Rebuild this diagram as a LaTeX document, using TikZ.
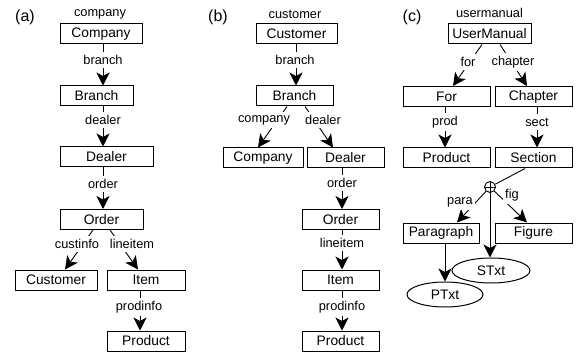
\documentclass[tikz,border=0pt]{standalone}
\usepackage{fontspec}
\setmainfont{Liberation Sans}
\usetikzlibrary{arrows.meta,shapes.geometric}

\tikzset{
  box/.style={draw, line width=1pt, minimum height=20pt, inner sep=0pt,
    font=\fontsize{13.8}{16}\selectfont},
  oval/.style={draw, ellipse, line width=1pt, minimum height=25pt, inner sep=0pt,
    font=\fontsize{13.8}{16}\selectfont},
  lbl/.style={fill=white, inner xsep=2pt, inner ysep=3.5pt, font=\fontsize{12.8}{15}\selectfont},
  tag/.style={font=\fontsize{16}{18}\selectfont},
  arr/.style={line width=0.9pt, -{Stealth[length=13pt,width=13pt,inset=3.5pt]}},
}

\begin{document}
\begin{tikzpicture}[x=1pt,y=-1pt]
\useasboundingbox (0,0) rectangle (582,353);

% (a)
\node[tag] (tagA) at (25,17) {(a)};
\node[box, minimum width=82pt] (aCompany) at (101,34) {Company};
\node[box, minimum width=73pt] (aBranch) at (96.5,96) {Branch};
\node[box, minimum width=93pt] (aDealer) at (106.5,157) {Dealer};
\node[box, minimum width=83pt] (aOrder) at (101.5,219.5) {Order};
\node[box, minimum width=82pt] (aCustomer) at (56,280) {Customer};
\node[box, minimum width=78pt] (aItem) at (146,280) {Item};
\node[box, minimum width=78pt] (aProduct) at (146,341) {Product};

\draw[arr] ([xshift=2pt]aCompany.south) -- ([xshift=6.5pt]aBranch.north);
\draw[arr] ([xshift=6.5pt]aBranch.south) -- ([xshift=-3.5pt]aDealer.north);
\draw[arr] ([xshift=-3.5pt]aDealer.south) -- ([xshift=1.5pt]aOrder.north);
\draw[arr] ([xshift=-8.5pt]aOrder.south) -- ([xshift=9pt]aCustomer.north);
\draw[arr] ([xshift=8.5pt]aOrder.south) -- ([xshift=-8pt]aItem.north);
\draw[arr] ([xshift=-6pt]aItem.south) -- ([xshift=-6pt]aProduct.north);

\node[lbl] (aL0) at (100,14) {company};
\node[lbl] (aL1) at (103,60) {branch};
\node[lbl] (aL2) at (103,120) {dealer};
\node[lbl] (aL3) at (103,184) {order};
\node[lbl] (aL4) at (77,244) {custinfo};
\node[lbl] (aL5) at (132,244) {lineitem};
\node[lbl] (aL6) at (139,307) {prodinfo};

% (b)
\node[tag] (tagB) at (218,17) {(b)};
\node[box, minimum width=81pt] (bCustomer) at (296.5,34) {Customer};
\node[box, minimum width=77pt] (bBranch) at (294.5,96) {Branch};
\node[box, minimum width=80pt] (bCompany) at (263,158) {Company};
\node[box, minimum width=77pt] (bDealer) at (345.5,158) {Dealer};
\node[box, minimum width=77pt] (bOrder) at (340.5,219.5) {Order};
\node[box, minimum width=77pt] (bItem) at (340.5,280) {Item};
\node[box, minimum width=77pt] (bProduct) at (340.5,341) {Product};

\draw[arr] ([xshift=-0.5pt]bCustomer.south) -- ([xshift=1.5pt]bBranch.north);
\draw[arr] ([xshift=-7.5pt]bBranch.south) -- ([xshift=-5pt]bCompany.north);
\draw[arr] ([xshift=10.5pt]bBranch.south) -- ([xshift=-12.5pt]bDealer.north);
\draw[arr] ([xshift=-3.5pt]bDealer.south) -- ([xshift=1.5pt]bOrder.north);
\draw[arr] ([xshift=1.5pt]bOrder.south) -- ([xshift=1.5pt]bItem.north);
\draw[arr] ([xshift=1.5pt]bItem.south) -- ([xshift=1.5pt]bProduct.north);

\node[lbl] (bL0) at (295,14) {customer};
\node[lbl] (bL1) at (295,60) {branch};
\node[lbl] (bL2) at (264,120) {company};
\node[lbl] (bL3) at (323,120) {dealer};
\node[lbl] (bL4) at (342,183) {order};
\node[lbl] (bL5) at (342,243) {lineitem};
\node[lbl] (bL6) at (342,307) {prodinfo};

% (c)
\node[tag] (tagC) at (412,17) {(c)};
\node[box, minimum width=83pt] (cManual) at (489.5,34) {UserManual};
\node[box, minimum width=87pt] (cFor) at (446.5,96.5) {For};
\node[box, minimum width=77pt] (cChapter) at (533.5,96.5) {Chapter};
\node[box, minimum width=87pt] (cProduct) at (446.5,158) {Product};
\node[box, minimum width=77pt] (cSection) at (533.5,158) {Section};
\node[draw, circle, line width=0.9pt, minimum size=11pt, inner sep=0pt] (plus) at (490,187) {};
\draw[line width=0.9pt] (plus.north) -- (plus.south) (plus.west) -- (plus.east);
\node[box, minimum width=76pt] (cPara) at (441,233) {Paragraph};
\node[box, minimum width=77pt] (cFigure) at (533.5,233) {Figure};
\node[oval, minimum width=78pt] (cSTxt) at (491,270.5) {STxt};
\node[oval, minimum width=76pt] (cPTxt) at (445,294.5) {PTxt};

\draw[arr] ([xshift=-7.5pt]cManual.south) -- ([xshift=6.5pt]cFor.north);
\draw[arr] ([xshift=10.5pt]cManual.south) -- ([xshift=-6.5pt]cChapter.north);
\draw[arr] ([xshift=-1.5pt]cFor.south) -- ([xshift=-1.5pt]cProduct.north);
\draw[arr] ([xshift=3.5pt]cChapter.south) -- ([xshift=3.5pt]cSection.north);
\draw[line width=0.9pt] ([xshift=-8.5pt]cSection.south) -- (plus);
\draw[arr] (plus) -- ([xshift=16pt]cPara.north);
\draw[arr] (plus) -- ([xshift=-6.5pt]cFigure.north);
\draw[arr] (plus.south) -- (plus.south |- cSTxt.north);
\draw[arr] ([xshift=4pt]cPara.south) -- (cPTxt.north);

\node[lbl] (cL0) at (489.5,13) {usermanual};
\node[lbl] (cL1) at (468,62) {for};
\node[lbl] (cL2) at (513,62) {chapter};
\node[lbl] (cL3) at (445,122) {prod};
\node[lbl] (cL4) at (537,122) {sect};
\node[lbl] (cL5) at (460,202) {para};
\node[lbl] (cL6) at (512,195) {fig};

\end{tikzpicture}
\end{document}
